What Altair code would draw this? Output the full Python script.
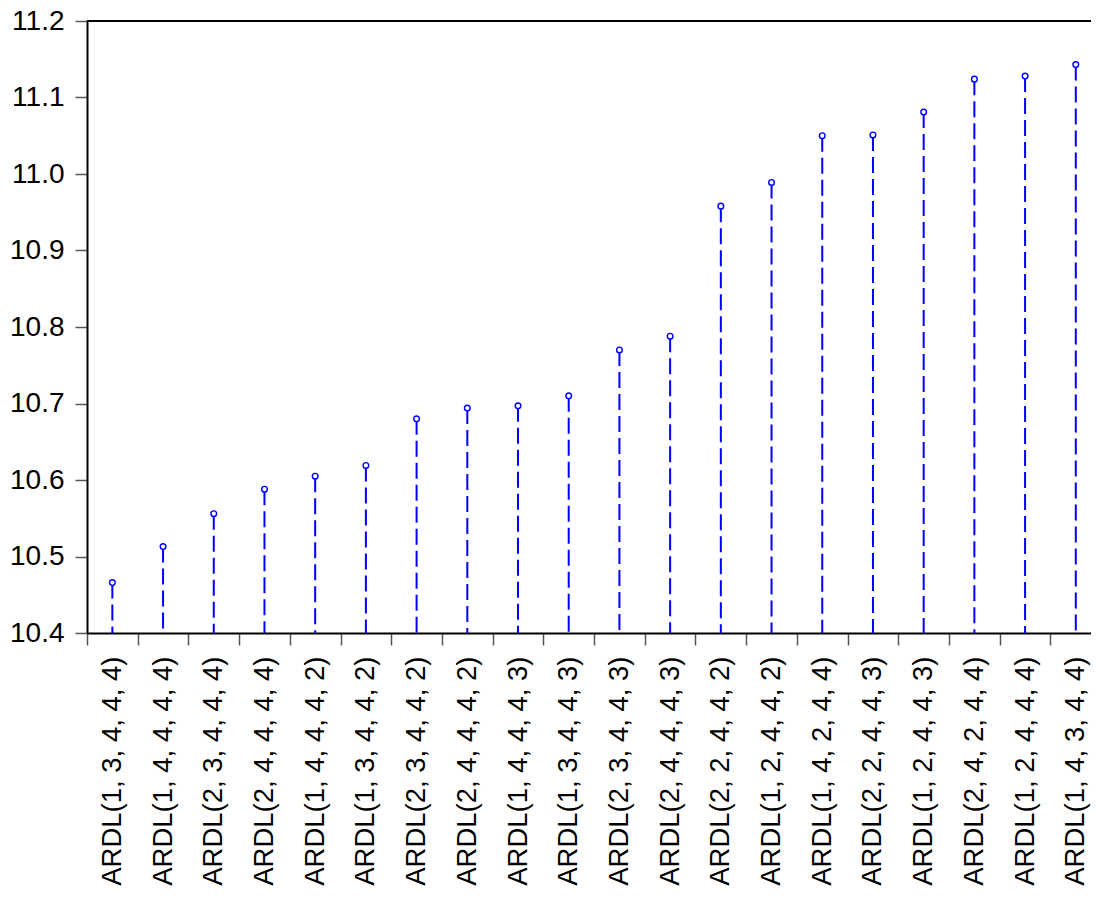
import json
import altair as alt
import pandas as pd

models = [
    "ARDL(1, 3, 4, 4, 4)", "ARDL(1, 4, 4, 4, 4)", "ARDL(2, 3, 4, 4, 4)", "ARDL(2, 4, 4, 4, 4)",
    "ARDL(1, 4, 4, 4, 2)", "ARDL(1, 3, 4, 4, 2)", "ARDL(2, 3, 4, 4, 2)", "ARDL(2, 4, 4, 4, 2)",
    "ARDL(1, 4, 4, 4, 3)", "ARDL(1, 3, 4, 4, 3)", "ARDL(2, 3, 4, 4, 3)", "ARDL(2, 4, 4, 4, 3)",
    "ARDL(2, 2, 4, 4, 2)", "ARDL(1, 2, 4, 4, 2)", "ARDL(1, 4, 2, 4, 4)", "ARDL(2, 2, 4, 4, 3)",
    "ARDL(1, 2, 4, 4, 3)", "ARDL(2, 4, 2, 4, 4)", "ARDL(1, 2, 4, 4, 4)", "ARDL(1, 4, 3, 4, 4)",
]
values = [
    10.466, 10.513, 10.556, 10.588, 10.605, 10.619, 10.680, 10.694, 10.697, 10.710,
    10.770, 10.788, 10.958, 10.989, 11.050, 11.051, 11.081, 11.124, 11.128, 11.143,
]
y_ticks = [10.4, 10.5, 10.6, 10.7, 10.8, 10.9, 11.0, 11.1, 11.2]
y_min, y_max = 10.4, 11.2

n = len(models)
df = pd.DataFrame({
    "model": models,
    "pos": [i + 0.5 for i in range(n)],
    "value": values,
    "base": [y_min] * n,
})

FONT = "Liberation Sans"
BLUE = "#0000FF"

PLOT_W = 1004
X_MAX = 19.8  # the plot ends a little after the last category, as in the reference
BAND = PLOT_W / X_MAX

x_scale = alt.Scale(domain=[0, X_MAX], nice=False, zero=False)
x_axis = alt.Axis(
    values=list(range(n)),
    labelExpr=json.dumps(models) + "[datum.value]",
    labelOffset=BAND / 2,
    labelAngle=-90,
    labelFont=FONT,
    labelFontSize=27.5,
    labelColor="#000000",
    labelPadding=11,
    labelLimit=0,
    labelFlush=False,
    labelOverlap=False,
    labelBound=False,
    tickSize=12,
    tickColor="#555555",
    tickWidth=1.5,
    domainColor="#000000",
    domainWidth=2,
    grid=False,
)
x_enc = alt.X("pos:Q", title=None, scale=x_scale, axis=x_axis)

y_scale = alt.Scale(domain=[y_min, y_max], nice=False, zero=False)
y_axis = alt.Axis(
    values=y_ticks,
    format=".1f",
    labelFont=FONT,
    labelFontSize=28,
    labelColor="#000000",
    labelPadding=11,
    tickSize=12,
    tickColor="#555555",
    tickWidth=1.5,
    domainColor="#000000",
    domainWidth=2,
    grid=False,
    title=None,
)
y_enc = alt.Y("value:Q", scale=y_scale, axis=y_axis)

base = alt.Chart(df)

stems = base.mark_rule(color=BLUE, strokeWidth=2, strokeDash=[16, 6]).encode(
    x=x_enc,
    y=y_enc,
    y2="base:Q",
)

points = base.mark_point(
    shape="circle", size=32, filled=True, fill="#FFFFFF", stroke=BLUE, strokeWidth=1.4, opacity=1
).encode(
    x=x_enc,
    y=y_enc,
)

top_line = alt.Chart(pd.DataFrame({"top": [y_max]})).mark_rule(color="#000000", strokeWidth=2).encode(
    y=alt.Y("top:Q", scale=y_scale, axis=y_axis)
)

chart = (
    alt.layer(stems, points, top_line)
    .properties(
        width=PLOT_W,
        height=612,
        autosize=alt.AutoSizeParams(type="none"),
        padding={"left": 79, "top": 13, "right": 0, "bottom": 258},
        background="#FFFFFF",
    )
    .configure_view(stroke=None)
)

chart.save("out.html", embed_options={"renderer": "svg", "actions": False})
